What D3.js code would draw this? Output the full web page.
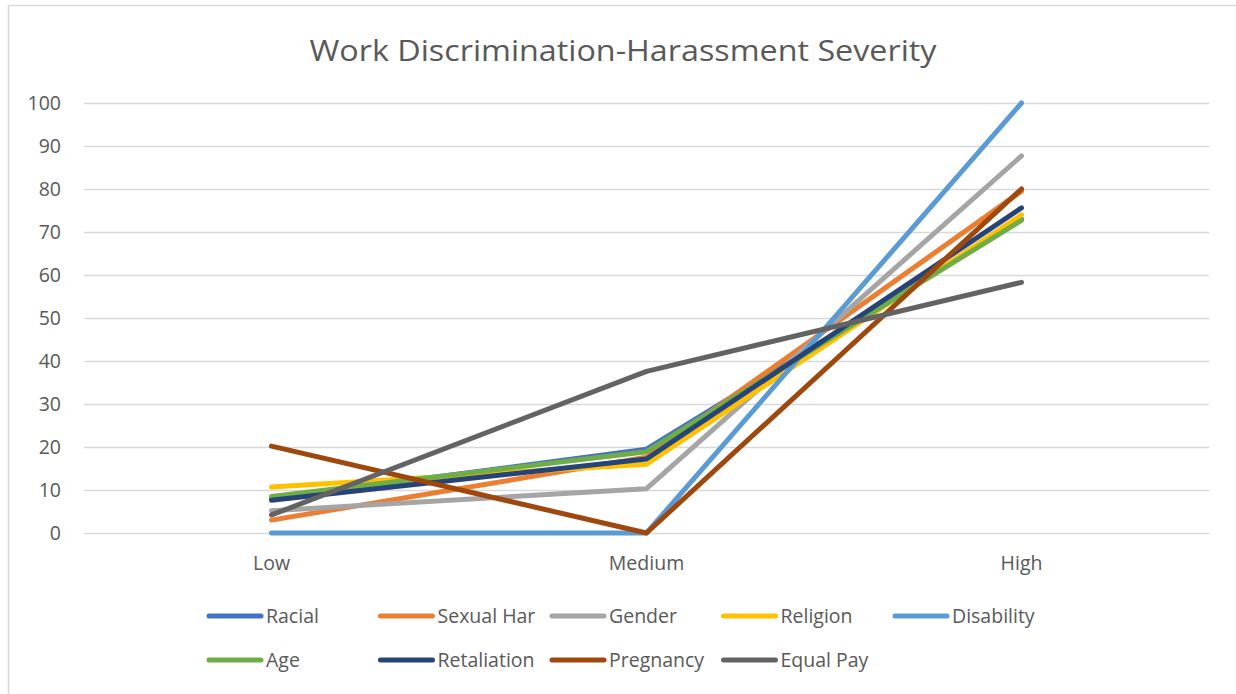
<!DOCTYPE html>
<html>
<head>
<meta charset="utf-8">
<script src="https://cdn.jsdelivr.net/npm/d3@7"></script>
<style>
  html, body { margin: 0; padding: 0; background: #fff; }
  svg { display: block; }
</style>
</head>
<body>
<svg id="chart" width="1236" height="694"></svg>
<script>
const categories = ["Low", "Medium", "High"];
const seriesNames = ["Racial", "Sexual Har", "Gender", "Religion", "Disability", "Age", "Retaliation", "Pregnancy", "Equal Pay"];
const racial      = [8.0, 19.5, 73.0];
const sexualHar   = [3.0, 17.6, 79.5];
const gender      = [5.2, 10.3, 87.7];
const religion    = [10.7, 16.0, 74.0];
const disability  = [0, 0, 100];
const age         = [8.5, 18.9, 72.7];
const retaliation = [7.6, 17.2, 75.6];
const pregnancy   = [20.2, 0, 80.0];
const equalPay    = [4.2, 37.6, 58.3];
const yTicks = [0, 10, 20, 30, 40, 50, 60, 70, 80, 90, 100];

const seriesValues = [racial, sexualHar, gender, religion, disability, age, retaliation, pregnancy, equalPay];
const colors = ["#4472C4", "#ED7D31", "#A5A5A5", "#FFC000", "#5B9BD5", "#70AD47", "#264478", "#9E480E", "#636363"];

(function () {
const svg = d3.select("#chart");
const font = "'Open Sans', 'Liberation Sans', sans-serif";
const textColor = "#595959";

// outer border
svg.append("rect").attr("x", 8.5).attr("y", 5.5).attr("width", 1240).attr("height", 700)
  .attr("fill", "#fff").attr("stroke", "#d9d9d9").attr("stroke-width", 1.5);

const pLeft = 84, pRight = 1209, pTop = 103, pBottom = 533;
const x = d3.scaleBand().domain(categories).range([pLeft, pRight]);
const y = d3.scaleLinear().domain([0, 100]).range([pBottom, pTop]);

// title
svg.append("text").attr("x", 623).attr("y", 61).attr("text-anchor", "middle")
  .attr("font-family", font).attr("font-size", 30).attr("fill", textColor)
  .attr("textLength", 627).attr("lengthAdjust", "spacingAndGlyphs")
  .text("Work Discrimination-Harassment Severity");

// gridlines + y labels
const yAxis = d3.axisLeft(y).tickValues(yTicks).tickSize(-(pRight - pLeft)).tickPadding(23);
const gy = svg.append("g").attr("transform", `translate(${pLeft},0)`).call(yAxis);
gy.select(".domain").remove();
gy.selectAll(".tick line").attr("stroke", "#d9d9d9").attr("stroke-width", 1.5);
gy.selectAll(".tick text").attr("font-family", font).attr("font-size", 19.5).attr("fill", textColor);

// x axis labels
const xAxis = d3.axisBottom(x).tickSize(0).tickPadding(23);
const gx = svg.append("g").attr("transform", `translate(0,${pBottom})`).call(xAxis);
gx.select(".domain").remove();
gx.selectAll(".tick text").attr("font-family", font).attr("font-size", 19.5).attr("fill", textColor);

// lines
const line = d3.line()
  .x((d, i) => x(categories[i]) + x.bandwidth() / 2)
  .y(d => y(d));

seriesValues.forEach((vals, i) => {
  svg.append("path").datum(vals)
    .attr("d", line)
    .attr("fill", "none")
    .attr("stroke", colors[i])
    .attr("stroke-width", 5)
    .attr("stroke-linecap", "round")
    .attr("stroke-linejoin", "round");
});

// legend
const legendX0 = 207, legendDX = 171.5, legendRows = [616, 660];
seriesNames.forEach((name, i) => {
  const col = i % 5, row = Math.floor(i / 5);
  const lx = legendX0 + col * legendDX, ly = legendRows[row];
  svg.append("line").attr("x1", lx + 2).attr("x2", lx + 54).attr("y1", ly).attr("y2", ly)
    .attr("stroke", colors[i]).attr("stroke-width", 5).attr("stroke-linecap", "round");
  svg.append("text").attr("x", lx + 59).attr("y", ly).attr("dy", "0.35em")
    .attr("font-family", font).attr("font-size", 19.5).attr("fill", textColor)
    .text(name);
});
})();
</script>
</body>
</html>
